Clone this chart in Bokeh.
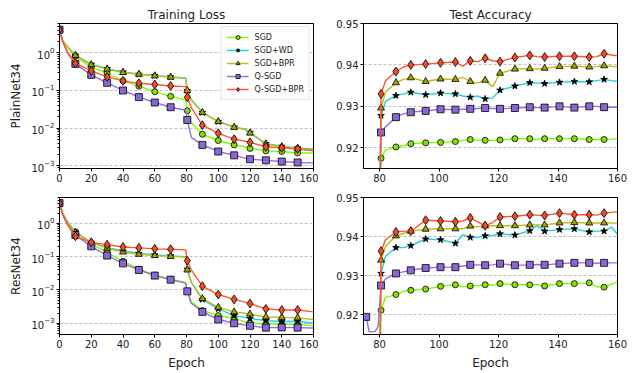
from bokeh.plotting import figure
from bokeh.layouts import gridplot
from bokeh.models import Range1d, FixedTicker, NumeralTickFormatter, Legend, LegendItem
from bokeh.embed import file_html
from bokeh.resources import INLINE

# ---------------- data ----------------
names = ["SGD", "SGD+WD", "SGD+BPR", "Q-SGD", "Q-SGD+BPR"]

# Training loss (epochs)
loss_x = [0, 2, 5, 10, 20, 30, 40, 50, 60, 70, 79.5, 80.5, 83, 90, 100, 110, 117, 120, 130, 140, 150, 160]
loss_marks = [0, 10, 20, 30, 40, 50, 60, 70, 80.5, 90, 100, 110, 120, 130, 140, 150]

plain_loss_sgd = [4.1, 2.1, 1.4, 0.82, 0.41, 0.29, 0.18, 0.13, 0.093, 0.07, 0.056, 0.029, 0.014, 0.0069, 0.0047, 0.0036, 0.0032, 0.0029, 0.0025, 0.0024, 0.0022, 0.0022]
plain_loss_wd = [4.1, 2.1, 1.45, 0.87, 0.5, 0.38, 0.31, 0.27, 0.25, 0.23, 0.215, 0.10, 0.058, 0.026, 0.015, 0.0107, 0.0094, 0.0077, 0.0039, 0.0033, 0.0030, 0.0028]
plain_loss_bpr = [4.1, 2.1, 1.45, 0.85, 0.48, 0.37, 0.30, 0.27, 0.245, 0.225, 0.21, 0.10, 0.055, 0.026, 0.015, 0.0105, 0.0092, 0.0074, 0.0038, 0.0032, 0.0029, 0.0027]
plain_loss_qsgd = [4.1, 2.0, 1.0, 0.51, 0.26, 0.16, 0.10, 0.067, 0.048, 0.036, 0.030, 0.0165, 0.0057, 0.0036, 0.0024, 0.0019, 0.0016, 0.0015, 0.0014, 0.0013, 0.00123, 0.0012]
plain_loss_qbpr = [4.1, 2.0, 1.05, 0.53, 0.33, 0.23, 0.18, 0.155, 0.144, 0.132, 0.127, 0.066, 0.035, 0.012, 0.0073, 0.0051, 0.0045, 0.0042, 0.0032, 0.0030, 0.0028, 0.0025]

res_loss_sgd = [4.1, 2.0, 1.1, 0.56, 0.245, 0.132, 0.073, 0.042, 0.028, 0.021, 0.017, 0.0091, 0.0045, 0.0024, 0.0017, 0.0014, 0.0011, 0.001, 0.00095, 0.00093, 0.00092, 0.00085]
res_loss_wd = [4.1, 2.0, 1.1, 0.55, 0.27, 0.19, 0.148, 0.126, 0.113, 0.106, 0.10, 0.042, 0.017, 0.0052, 0.0027, 0.0017, 0.0015, 0.0014, 0.0012, 0.00113, 0.00115, 0.001]
res_loss_bpr = [4.1, 2.0, 1.1, 0.53, 0.27, 0.18, 0.138, 0.118, 0.108, 0.102, 0.098, 0.04, 0.017, 0.0055, 0.003, 0.0022, 0.002, 0.0019, 0.00155, 0.0015, 0.00145, 0.0013]
res_loss_qsgd = [4.1, 1.9, 0.95, 0.45, 0.205, 0.108, 0.063, 0.04, 0.027, 0.0204, 0.0158, 0.0091, 0.004, 0.0022, 0.0013, 0.001, 0.00088, 0.00084, 0.00074, 0.00075, 0.00074, 0.00072]
res_loss_qbpr = [4.1, 1.8, 0.9, 0.41, 0.27, 0.23, 0.196, 0.184, 0.172, 0.168, 0.16, 0.076, 0.04, 0.013, 0.0073, 0.0052, 0.0043, 0.0039, 0.0027, 0.0025, 0.0025, 0.0022]

# Test accuracy (epochs)
acc_x = [80, 80.5, 82, 85.5, 88, 90.5, 95.5, 100.5, 105.5, 108, 110.5, 113, 115.5, 118, 120.5, 125.5, 130.5, 133, 135.5, 140.5, 145.5, 150.5, 153, 155.5, 158, 160]
acc_marks = [75.5, 80.5, 85.5, 90.5, 95.5, 100.5, 105.5, 110.5, 115.5, 120.5, 125.5, 130.5, 135.5, 140.5, 145.5, 150.5, 155.5]

plain_acc_sgd = [0.90, 0.9175, 0.9195, 0.9202, 0.9205, 0.921, 0.9212, 0.9213, 0.9215, 0.9218, 0.922, 0.9218, 0.9218, 0.9218, 0.9219, 0.9222, 0.9222, 0.922, 0.9222, 0.9222, 0.9222, 0.922, 0.922, 0.922, 0.9221, 0.9222]
plain_acc_wd = [0.90, 0.9278, 0.9312, 0.9326, 0.933, 0.9334, 0.9328, 0.9332, 0.933, 0.9325, 0.9322, 0.9325, 0.9318, 0.932, 0.9339, 0.9349, 0.9357, 0.9356, 0.9355, 0.9358, 0.936, 0.9359, 0.9362, 0.9365, 0.9362, 0.936]
plain_acc_bpr = [0.90, 0.9296, 0.9335, 0.9357, 0.9365, 0.9369, 0.936, 0.9366, 0.9365, 0.937, 0.936, 0.9356, 0.9363, 0.9347, 0.938, 0.939, 0.9391, 0.939, 0.9392, 0.9396, 0.9397, 0.9395, 0.9396, 0.9398, 0.9397, 0.9395]
plain_acc_qsgd = [0.90, 0.9237, 0.925, 0.9274, 0.9282, 0.9286, 0.9289, 0.9293, 0.9292, 0.9293, 0.9294, 0.9295, 0.9296, 0.9295, 0.9294, 0.9296, 0.9298, 0.9297, 0.9297, 0.93, 0.9297, 0.93, 0.93, 0.9298, 0.9298, 0.9298]
plain_acc_qbpr = [0.90, 0.933, 0.9362, 0.9384, 0.9395, 0.94, 0.9402, 0.9405, 0.9407, 0.9397, 0.941, 0.9408, 0.9416, 0.941, 0.9408, 0.9418, 0.9423, 0.942, 0.9419, 0.9421, 0.9421, 0.9419, 0.942, 0.9427, 0.9424, 0.9422]

res_acc_sgd = [0.90, 0.9212, 0.9245, 0.9252, 0.926, 0.9263, 0.9266, 0.9273, 0.9277, 0.9272, 0.9274, 0.9275, 0.9277, 0.9276, 0.928, 0.9277, 0.9277, 0.9277, 0.9274, 0.928, 0.928, 0.9282, 0.9272, 0.9271, 0.9278, 0.9285]
res_acc_wd = [0.90, 0.9306, 0.935, 0.9372, 0.9372, 0.9377, 0.9394, 0.9392, 0.9383, 0.9405, 0.9398, 0.9398, 0.9402, 0.9403, 0.9407, 0.9404, 0.9415, 0.9428, 0.9414, 0.9418, 0.942, 0.9412, 0.9414, 0.9414, 0.9424, 0.9406]
res_acc_bpr = [0.90, 0.934, 0.9375, 0.9402, 0.9408, 0.9414, 0.9419, 0.942, 0.942, 0.942, 0.9427, 0.9425, 0.9428, 0.9428, 0.9428, 0.9428, 0.943, 0.943, 0.943, 0.9435, 0.9436, 0.9435, 0.9435, 0.9435, 0.9435, 0.9434]
res_acc_qsgd_pre_x = [75.5, 76.5, 78.5, 79.5]
res_acc_qsgd_pre = [0.9195, 0.9157, 0.9158, 0.917]
res_acc_qsgd = [0.9275, 0.9292, 0.9306, 0.931, 0.9314, 0.932, 0.9322, 0.9322, 0.9325, 0.9328, 0.9328, 0.9327, 0.9328, 0.9331, 0.9327, 0.9328, 0.9329, 0.9328, 0.9331, 0.9333, 0.9333, 0.9332, 0.9333, 0.9333, 0.9333]
res_acc_qbpr = [0.90, 0.9363, 0.9392, 0.9412, 0.9414, 0.9414, 0.9442, 0.944, 0.9438, 0.944, 0.9448, 0.9438, 0.9428, 0.9436, 0.945, 0.9452, 0.9456, 0.9455, 0.9454, 0.946, 0.9456, 0.9456, 0.9455, 0.946, 0.9462, 0.9464]

loss_ticks = [0, 20, 40, 60, 80, 100, 120, 140, 160]
acc_ticks = [80, 100, 120, 140, 160]
acc_yticks = [0.92, 0.93, 0.94, 0.95]
log_yticks = [1e-3, 1e-2, 1e-1, 1e0]

# ---------------- style ----------------
FONT = "DejaVu Sans"
STYLES = [
    # line color, marker, marker fill, marker size
    ("#7cfc00", "circle", "#86e000", 6),
    ("#20d2d2", "star", "#000000", 7),
    ("#bcbd22", "triangle", "#a3a300", 7),
    ("#9370db", "square", "#8a66d6", 7),
    ("#ff5533", "diamond", "#f04a28", 9),
]


def make_fig(width, height, xr, yr, log=False, title=None, left=59, right=5, top=9, bottom=20):
    kw = dict(width=width, height=height, x_range=Range1d(*xr), y_range=Range1d(*yr),
              output_backend="svg", toolbar_location=None, tools="",
              min_border_left=left, min_border_right=right, min_border_top=top, min_border_bottom=bottom)
    if log:
        kw["y_axis_type"] = "log"
    if title:
        kw["title"] = title
    p = figure(**kw)
    p.background_fill_color = "white"
    p.border_fill_color = "white"
    p.outline_line_color = "black"
    p.outline_line_alpha = 1
    p.outline_line_width = 1
    p.xgrid.visible = False
    p.ygrid.grid_line_color = "#b0b0b0"
    p.ygrid.grid_line_dash = "3 2"
    p.ygrid.grid_line_width = 0.8
    for ax in list(p.xaxis) + list(p.yaxis):
        ax.major_label_text_font = FONT
        ax.major_label_text_font_size = "10px"
        ax.major_label_text_color = "#222222"
        ax.axis_label_text_font = FONT
        ax.axis_label_text_font_size = "12px"
        ax.axis_label_text_font_style = "normal"
        ax.axis_label_text_color = "#222222"
        ax.major_tick_in = 0
        ax.major_tick_out = 3
        ax.minor_tick_in = 0
        ax.minor_tick_out = 2
        ax.major_label_standoff = 2
        ax.axis_label_standoff = 5
        ax.axis_line_color = "black"
        ax.major_tick_line_color = "black"
        ax.minor_tick_line_color = "black"
    p.xaxis.minor_tick_line_color = None
    if not log:
        p.yaxis.minor_tick_line_color = None
    if title:
        p.title.text_font = FONT
        p.title.text_font_size = "12px"
        p.title.text_font_style = "normal"
        p.title.align = "center"
        p.title.standoff = 3
        p.title.text_color = "#222222"
    return p


def draw(p, xs, ys, idx, marks):
    lc, mk, mf, ms = STYLES[idx]
    lr = p.line(xs, ys, line_color=lc, line_width=1.4)
    mx = [x for x in xs if x in marks]
    my = [y for x, y in zip(xs, ys) if x in marks]
    sr = p.scatter(mx, my, marker=mk, size=ms, fill_color=mf, line_color="black", line_width=0.8)
    return lr, sr


FW = 145
tl = make_fig(318, 23 + FW + 20, (0, 160), (8.5e-4, 6.0), log=True, title="Training Loss", left=59, right=5, top=23, bottom=20)
tr = make_fig(319, 23 + FW + 20, (74.6, 160), (0.915, 0.95), title="Test Accuracy", left=45, right=20, top=23, bottom=20)
bl = make_fig(318, 9 + FW + 30, (0, 160), (4.6e-4, 6.0), log=True, left=59, right=5, top=9, bottom=30)
br = make_fig(319, 9 + FW + 30, (74.6, 160), (0.915, 0.95), left=45, right=20, top=9, bottom=30)

minor = []
for e in [1e-4, 1e-3, 1e-2, 1e-1, 1e0]:
    for k in range(2, 10):
        minor.append(k * e)
for p in (tl, bl):
    p.yaxis.ticker = FixedTicker(ticks=log_yticks, minor_ticks=minor)
    p.xaxis.ticker = FixedTicker(ticks=loss_ticks)
for p in (tr, br):
    p.yaxis.ticker = FixedTicker(ticks=acc_yticks)
    p.yaxis.formatter = NumeralTickFormatter(format="0.00")
    p.xaxis.ticker = FixedTicker(ticks=acc_ticks)

tl.yaxis.axis_label = "PlainNet34"
bl.yaxis.axis_label = "ResNet34"
bl.xaxis.axis_label = "Epoch"
br.xaxis.axis_label = "Epoch"

plain_loss = [plain_loss_sgd, plain_loss_wd, plain_loss_bpr, plain_loss_qsgd, plain_loss_qbpr]
res_loss = [res_loss_sgd, res_loss_wd, res_loss_bpr, res_loss_qsgd, res_loss_qbpr]
plain_acc = [plain_acc_sgd, plain_acc_wd, plain_acc_bpr, plain_acc_qsgd, plain_acc_qbpr]

items = []
for i, ys in enumerate(plain_loss):
    lr, sr = draw(tl, loss_x, ys, i, loss_marks)
    items.append(LegendItem(label=names[i], renderers=[lr, sr]))
for i, ys in enumerate(res_loss):
    draw(bl, loss_x, ys, i, loss_marks)
for i, ys in enumerate(plain_acc):
    draw(tr, acc_x, ys, i, acc_marks)

draw(br, acc_x, res_acc_sgd, 0, acc_marks)
draw(br, acc_x, res_acc_wd, 1, acc_marks)
draw(br, acc_x, res_acc_bpr, 2, acc_marks)
draw(br, res_acc_qsgd_pre_x + acc_x[1:], res_acc_qsgd_pre + res_acc_qsgd, 3, acc_marks)
draw(br, acc_x, res_acc_qbpr, 4, acc_marks)

legend = Legend(items=items, location="top_right")
legend.label_text_font = FONT
legend.label_text_font_size = "8px"
legend.label_text_color = "#222222"
legend.glyph_width = 22
legend.glyph_height = 10
legend.label_height = 10
legend.label_standoff = 6
legend.spacing = 3
legend.padding = 5
legend.margin = 3
legend.border_line_color = "#cccccc"
legend.background_fill_alpha = 0.85
tl.add_layout(legend)

grid = gridplot([[tl, tr], [bl, br]], toolbar_location=None)

open("out.html", "w").write(file_html(grid, INLINE))
